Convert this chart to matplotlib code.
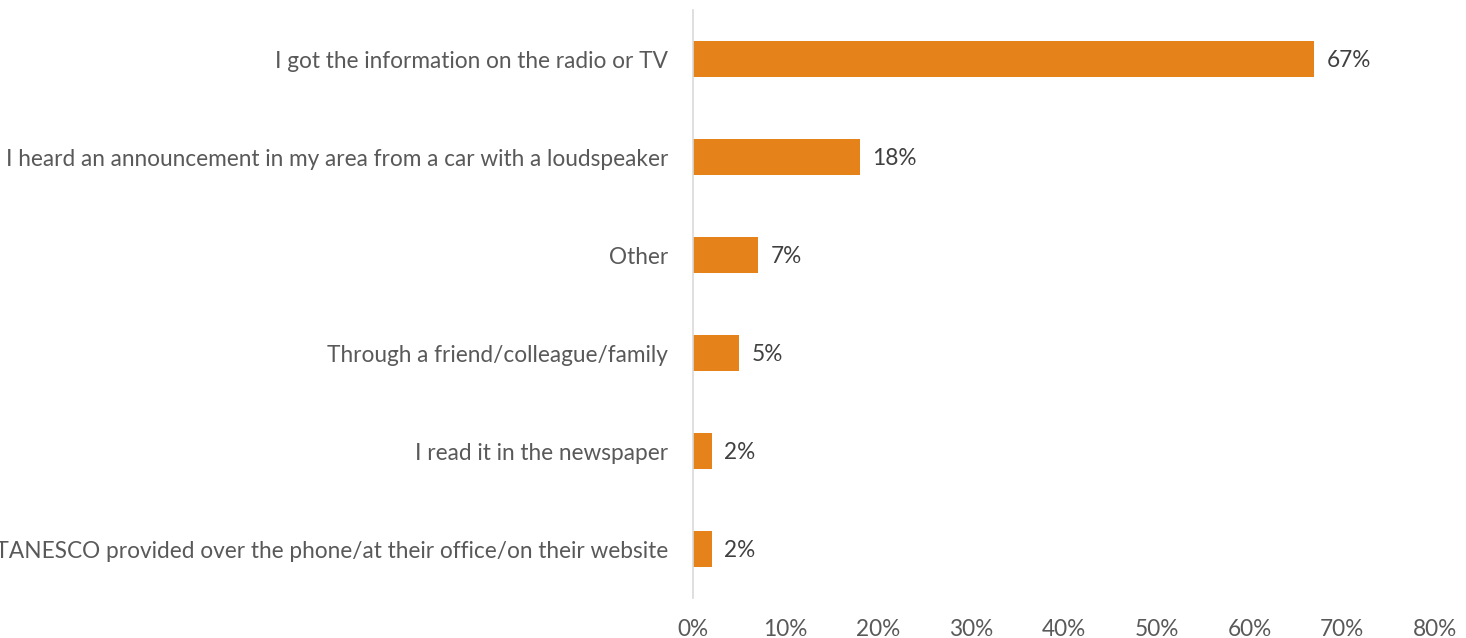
import matplotlib
matplotlib.use("Agg")
import matplotlib.pyplot as plt
from matplotlib.ticker import FuncFormatter

# Survey responses: how people heard about the outage
categories = [
    "I got the information on the radio or TV",
    "I heard an announcement in my area from a car with a loudspeaker",
    "Other",
    "Through a friend/colleague/family",
    "I read it in the newspaper",
    "Information from TANESCO provided over the phone/at their office/on their website",
]
shares = [67, 18, 7, 5, 2, 2]
x_ticks = [0, 10, 20, 30, 40, 50, 60, 70, 80]

BAR_COLOR = "#E6821A"
TEXT_COLOR = "#595959"
VALUE_COLOR = "#404040"
FONT = ["Lato", "DejaVu Sans"]
FS = 16.3

fig = plt.figure(figsize=(14.66, 6.38), dpi=100)
ax = fig.add_axes([693 / 1466, 1 - 598 / 638, (1435 - 693) / 1466, 588 / 638])

y = list(range(len(categories)))
bars = ax.barh(y, shares, height=0.36, color=BAR_COLOR, zorder=2)

for bar, v in zip(bars, shares):
    ax.annotate(f"{v}%", xy=(bar.get_width(), bar.get_y() + bar.get_height() / 2),
                xytext=(9, -1), textcoords="offset points", va="center", ha="left",
                fontsize=FS, color=VALUE_COLOR, family=FONT)

ax.set_xlim(0, 80)
ax.set_ylim(len(categories) - 0.5, -0.5)
ax.set_xticks(x_ticks)
ax.xaxis.set_major_formatter(FuncFormatter(lambda v, _: f"{v:.0f}%"))
ax.set_yticks(y)
ax.set_yticklabels(categories)

for lab in ax.get_xticklabels() + ax.get_yticklabels():
    lab.set_family(FONT)
    lab.set_fontsize(FS)
    lab.set_color(TEXT_COLOR)

ax.tick_params(axis="x", length=0, pad=15)
ax.tick_params(axis="y", length=0, pad=18)

for side in ("top", "right", "bottom"):
    ax.spines[side].set_visible(False)
ax.spines["left"].set_color("#D9D9D9")
ax.spines["left"].set_linewidth(1.2)

fig.savefig("out.png", dpi=100)
